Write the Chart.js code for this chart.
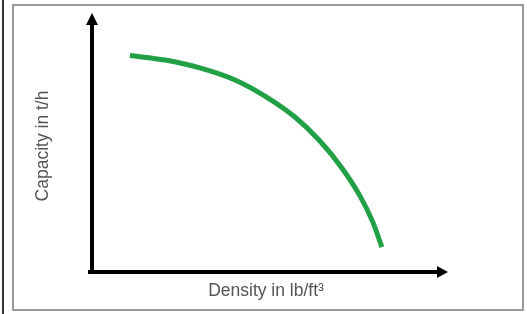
<!DOCTYPE html>
<html>
<head>
<meta charset="utf-8">
<script src="https://cdn.jsdelivr.net/npm/chart.js@4.4.0/dist/chart.umd.min.js"></script>
<style>
  html, body { margin: 0; padding: 0; background: #fff; }
  #wrap { position: relative; width: 527px; height: 314px; overflow: hidden; }
  #edge { position: absolute; left: 2px; top: 0; width: 2px; height: 314px; background: #333; }
  #frame { position: absolute; left: 12px; top: 4px; width: 508px; height: 303px; border: 2px solid #999; }
  canvas { position: absolute; left: 0; top: 0; }
</style>
</head>
<body>
<div id="wrap">
  <div id="edge"></div>
  <div id="frame"></div>
  <canvas id="curveChart" width="527" height="314"></canvas>
</div>
<script>
// values (relative units, no tick labels shown)
const density = [10.9, 21.0, 31.0, 41.1, 49.7, 58.3, 65.5, 71.8, 77.0, 80.7, 83.3];
const capacity = [85.9, 84.1, 81.0, 76.2, 69.8, 61.5, 52.0, 41.3, 30.2, 19.8, 9.9];
const xTitle = 'Density in lb/ft³';
const yTitle = 'Capacity in t/h';

const points = density.map((d, i) => ({ x: d, y: capacity[i] }));

// arrowheads at the ends of the axes
const arrowHeads = {
  id: 'arrowHeads',
  afterDraw(chart) {
    const { ctx, chartArea } = chart;
    const x0 = chart.scales.x.left;
    const y0 = chart.scales.y.bottom;
    ctx.save();
    ctx.fillStyle = '#000';
    // y arrow
    ctx.beginPath();
    ctx.moveTo(x0, chartArea.top - 7);
    ctx.lineTo(x0 - 6, chartArea.top + 5);
    ctx.lineTo(x0 + 6, chartArea.top + 5);
    ctx.closePath();
    ctx.fill();
    // x arrow
    ctx.beginPath();
    ctx.moveTo(chartArea.right + 8, y0);
    ctx.lineTo(chartArea.right - 3, y0 - 6);
    ctx.lineTo(chartArea.right - 3, y0 + 6);
    ctx.closePath();
    ctx.fill();
    // close the corner
    ctx.fillRect(x0 - 4, y0 - 2, 6, 4);
    ctx.restore();
  }
};

const ctx = document.getElementById('curveChart').getContext('2d');
new Chart(ctx, {
  type: 'line',
  data: {
    datasets: [{
      data: points,
      borderColor: '#22a046',
      borderWidth: 5,
      pointRadius: 0,
      fill: false,
      cubicInterpolationMode: 'monotone',
      borderCapStyle: 'butt'
    }]
  },
  options: {
    responsive: false,
    animation: false,
    layout: { padding: { left: 29, right: 87, top: 20, bottom: 8 } },
    plugins: { legend: { display: false }, tooltip: { enabled: false } },
    scales: {
      x: {
        type: 'linear',
        min: 0,
        max: 100,
        grid: { display: false },
        ticks: { display: false },
        border: { display: true, color: '#000', width: 4 },
        title: {
          display: true,
          text: xTitle,
          color: '#555',
          font: { family: '"Liberation Sans", Arial, sans-serif', size: 17.5 },
          padding: { top: 1, bottom: 4 }
        }
      },
      y: {
        type: 'linear',
        min: 0,
        max: 100,
        grid: { display: false },
        ticks: { display: false },
        border: { display: true, color: '#000', width: 4 },
        title: {
          display: true,
          text: yTitle,
          color: '#555',
          font: { family: '"Liberation Sans", Arial, sans-serif', size: 17.5 },
          padding: { top: 4, bottom: 30 }
        }
      }
    }
  },
  plugins: [arrowHeads]
});
</script>
</body>
</html>
